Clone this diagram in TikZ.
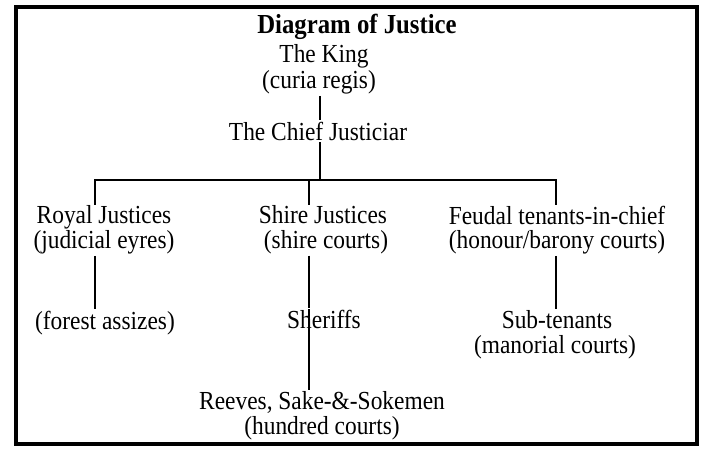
\documentclass[tikz,border=0pt]{standalone}
\usepackage{fontspec}
\setmainfont{Liberation Serif}[FakeStretch=0.9]
\begin{document}
\begin{tikzpicture}[x=1pt,y=-1pt,
  lbl/.style={anchor=base,inner sep=0pt,font=\fontsize{26}{25}\selectfont},
  ttl/.style={anchor=base,inner sep=0pt,font=\fontsize{27.5}{28}\selectfont\bfseries},
  link/.style={line width=2.5pt,shorten <=2pt,shorten >=1pt},
  frame/.style={line width=4pt}]
\useasboundingbox (0,0) rectangle (706,450);
\draw[frame] (16,7) rectangle (697,444);

\node[ttl] (title) at (357,33) {Diagram of Justice};
\node[lbl] (king) at (324,62.5) {The King};
\node[lbl] (kingsub) at (319,88) {(curia regis)};
\node[lbl] (chief) at (318,140) {The Chief Justiciar};
\node[lbl] (royal) at (104,223) {Royal Justices};
\node[lbl] (royalsub) at (104,248) {(judicial eyres)};
\node[lbl] (shire) at (323,223) {Shire Justices};
\node[lbl] (shiresub) at (326,248) {(shire courts)};
\node[lbl] (feudal) at (557,224) {Feudal tenants-in-chief};
\node[lbl] (feudalsub) at (557,248) {(honour/barony courts)};
\node[lbl] (forest) at (105,329) {(forest assizes)};
\node[lbl] (sheriffs) at (324,328) {Sheriffs};
\node[lbl] (sub) at (557,328) {Sub-tenants};
\node[lbl] (subsub) at (555,353) {(manorial courts)};
\node[lbl] (reeves) at (322,409) {Reeves, Sake-\&-Sokemen};
\node[lbl] (reevessub) at (322,434) {(hundred courts)};

\coordinate (xK) at (320,0);
\coordinate (xR) at (95,0);
\coordinate (xS) at (309,0);
\coordinate (xF) at (556,0);
\coordinate (bar) at (0,180);

\draw[link] (kingsub.south -| xK) -- (chief.north -| xK);
\draw[link] (chief.south -| xK) -- (bar -| xK);
\draw[link,shorten <=0pt,shorten >=0pt] (royal.north -| xR) -- (bar -| xR) -- (bar -| xF) -- (feudal.north -| xF);
\draw[link,shorten <=0pt,shorten >=0pt] (bar -| xS) -- (shire.north -| xS);
\draw[link] (royalsub.south -| xR) -- (forest.north -| xR);
\draw[link] (shiresub.south -| xS) -- (sheriffs.north -| xS);
\draw[link,shorten <=0pt] (sheriffs.north -| xS) -- (reeves.north -| xS);
\draw[link] (feudalsub.south -| xF) -- (sub.north -| xF);
\end{tikzpicture}
\end{document}
